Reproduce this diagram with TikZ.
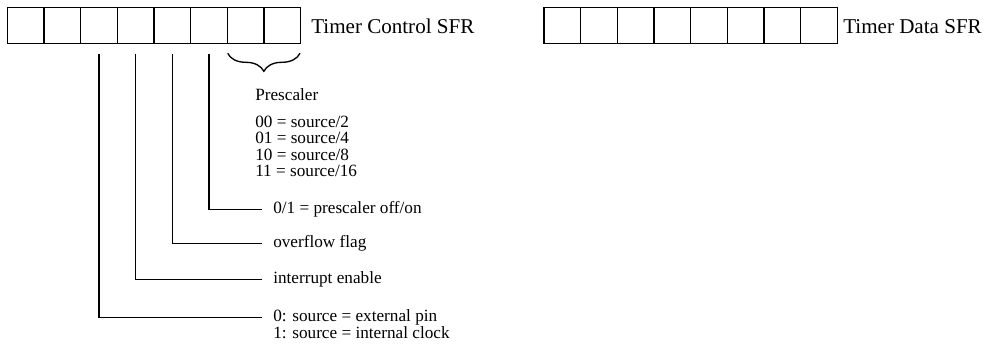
\documentclass[tikz,border=0pt]{standalone}
\usepackage{fontspec}
\setmainfont{Liberation Serif}
\usetikzlibrary{decorations.pathreplacing}

\tikzset{
  bit/.style={draw, line width=1pt, minimum width=27.5pt, minimum height=27pt, inner sep=0pt},
  regname/.style={anchor=base west, inner sep=0pt, font=\fontsize{15.8}{18}\selectfont},
  note/.style={anchor=west, inner sep=0pt, font=\fontsize{12.9}{15}\selectfont},
  lead/.style={line width=1pt, shorten <=7pt, shorten >=8.6pt},
}

\begin{document}
\begin{tikzpicture}[x=0.75pt,y=0.75pt,yscale=-1]
\useasboundingbox (0,0) rectangle (989,343);

%Shape: Control register cells
\foreach \i in {0,...,7}
  \node[bit] (ctl\i) at ({25.8+36.65*\i},25.5) {};
%Shape: Data register cells
\foreach \i in {0,...,7}
  \node[bit] (dat\i) at ({562.3+36.65*\i},25.5) {};

% Text Node
\node[regname] (ctlname) at (311,33.3) {Timer Control SFR};
% Text Node
\node[regname] (datname) at (843,33.3) {Timer Data SFR};

%Brace under the two low bits
\coordinate (braceR) at (300,53.3);
\coordinate (braceL) at (227.7,53.3);
\draw [line width=1pt, decorate, decoration={brace, amplitude=13.5pt}] (braceR) -- (braceL);

% Text Node
\node[note, anchor=base west] (presc) at (255,100) {Prescaler};
% Text Node
\node[note, anchor=base west] (div2) at (255,127) {00 = source/2};
% Text Node
\node[note, anchor=base west] (div4) at (255,143.5) {01 = source/4};
% Text Node
\node[note, anchor=base west] (div8) at (255,160) {10 = source/8};
% Text Node
\node[note, anchor=base west] (div16) at (255,176.5) {11 = source/16};

% Text Node
\node[note] (pson) at (273,209.5) {0/1 = prescaler off/on};
% Text Node
\node[note] (ovf) at (273,243.5) {overflow flag};
% Text Node
\node[note] (inten) at (273,279.5) {interrupt enable};
% Text Node
\node[note] (src0) at (273,317.5) {0: source = external pin};
% Text Node
\node[note] (src1) at (273,332.5) {1: source = internal clock};

%Straight Lines: bit leads
\draw [lead] (ctl5.south) |- (pson.west);
\draw [lead] (ctl4.south) |- (ovf.west);
\draw [lead] (ctl3.south) |- (inten.west);
\draw [lead] (ctl2.south) |- (src0.west);

\end{tikzpicture}
\end{document}
